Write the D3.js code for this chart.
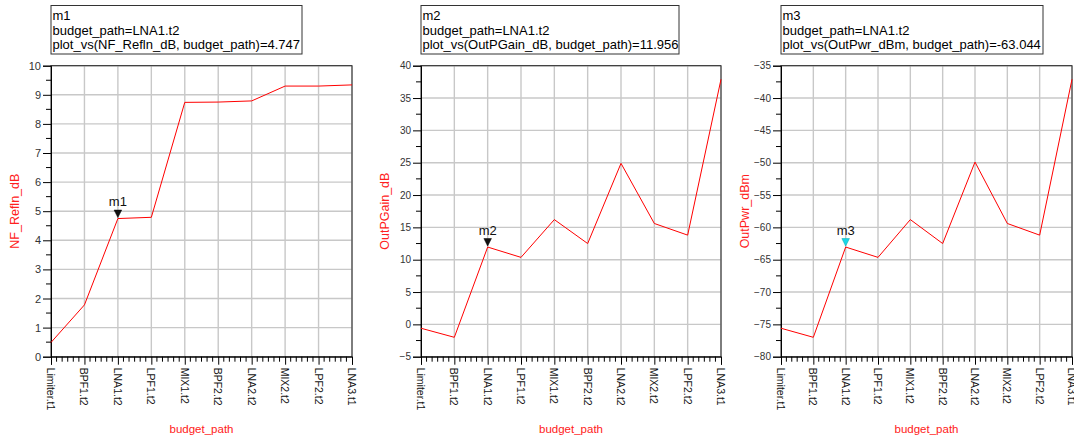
<!DOCTYPE html>
<html><head><meta charset="utf-8">
<script src="https://cdn.jsdelivr.net/npm/d3@7"></script>
<style>body{margin:0;background:#fff}svg{display:block;font-family:"Liberation Sans",Arial,sans-serif}</style>
</head><body>
<svg id="c" width="1074" height="440"></svg>
<script>
const categories = ["Limiter.t1","BPF1.t2","LNA1.t2","LPF1.t2","MIX1.t2","BPF2.t2","LNA2.t2","MIX2.t2","LPF2.t2","LNA3.t1"];
const nfReflnValues = [0.49, 1.78, 4.747, 4.79, 8.74, 8.75, 8.79, 9.30, 9.30, 9.34];
const outPGainValues = [-0.6, -2.0, 11.956, 10.36, 16.2, 12.5, 24.9, 15.6, 13.8, 37.9];
const outPwrValues = [-75.6, -77.0, -63.044, -64.64, -58.8, -62.5, -49.9, -59.4, -61.2, -37.1];
const yTicks1 = [0,1,2,3,4,5,6,7,8,9,10];
const yTicks2 = [-5,0,5,10,15,20,25,30,35,40];
const yTicks3 = [-80,-75,-70,-65,-60,-55,-50,-45,-40,-35];
const yLabels = ["NF_Refln_dB","OutPGain_dB","OutPwr_dBm"];
const xLabel = "budget_path";
const markerNames = ["m1","m2","m3"];
const markerCategory = "LNA1.t2";
const markerLines = [
  ["m1","budget_path=LNA1.t2","plot_vs(NF_Refln_dB, budget_path)=4.747"],
  ["m2","budget_path=LNA1.t2","plot_vs(OutPGain_dB, budget_path)=11.956"],
  ["m3","budget_path=LNA1.t2","plot_vs(OutPwr_dBm, budget_path)=-63.044"]
];

const panels = [
  {x0:51, x1:352, values:nfReflnValues, ticks:yTicks1, step:1, fs:11, boxR:302, mcol:"#111"},
  {x0:421, x1:721, values:outPGainValues, ticks:yTicks2, step:5, fs:10, boxR:679, mcol:"#111"},
  {x0:781, x1:1072, values:outPwrValues, ticks:yTicks3, step:5, fs:10, boxR:1043, mcol:"#19d6e8"}
];
const plotTop = 65.7, plotBottom = 356.7;
const svg = d3.select("#c");

panels.forEach((p, i) => {
  const g = svg.append("g");
  const x = d3.scalePoint().domain(categories).range([p.x0, p.x1]).padding(0);
  const xi = d3.scaleLinear().domain([0, categories.length - 1]).range([p.x0, p.x1]);
  const y = d3.scaleLinear().domain([d3.min(p.ticks), d3.max(p.ticks)]).range([plotBottom, plotTop]);

  // grid
  g.append("g").selectAll("line").data(categories.slice(1)).join("line")
    .attr("x1", d => x(d)).attr("x2", d => x(d)).attr("y1", plotTop).attr("y2", plotBottom)
    .attr("stroke", "#c8c8c8").attr("stroke-width", 1.4);
  g.append("g").selectAll("line").data(p.ticks.slice(1)).join("line")
    .attr("x1", p.x0).attr("x2", p.x1).attr("y1", d => y(d)).attr("y2", d => y(d))
    .attr("stroke", "#c8c8c8").attr("stroke-width", 1.4);

  // frame
  g.append("rect").attr("x", p.x0).attr("y", plotTop).attr("width", p.x1 - p.x0).attr("height", plotBottom - plotTop)
    .attr("fill", "none").attr("stroke", "#222").attr("stroke-width", 1);

  // y axis
  const yAxis = d3.axisLeft(y).tickValues(p.ticks).tickSize(8).tickPadding(2).tickFormat(d3.format("d"));
  const ya = g.append("g").attr("transform", `translate(${p.x0},0)`).call(yAxis);
  ya.select(".domain").attr("stroke", "#000");
  ya.selectAll(".tick line").attr("stroke", "#000");
  ya.selectAll(".tick text").attr("font-size", p.fs).attr("fill", "#333").attr("font-family", "Liberation Sans, Arial, sans-serif");
  const minorY = d3.range(d3.min(p.ticks) + p.step / 2, d3.max(p.ticks), p.step);
  g.append("g").selectAll("line").data(minorY).join("line")
    .attr("x1", p.x0 - 5).attr("x2", p.x0).attr("y1", d => y(d)).attr("y2", d => y(d)).attr("stroke", "#000");

  // x axis
  const xAxis = d3.axisBottom(x).tickSize(8).tickFormat("");
  const xa = g.append("g").attr("transform", `translate(0,${plotBottom})`).call(xAxis);
  xa.select(".domain").attr("stroke", "#000");
  xa.selectAll(".tick line").attr("stroke", "#000");
  const minorX = d3.range(0, categories.length - 1 + 1e-6, 1 / 6).filter(v => Math.abs(v - Math.round(v)) > 1e-6);
  g.append("g").selectAll("line").data(minorX).join("line")
    .attr("x1", d => xi(d)).attr("x2", d => xi(d)).attr("y1", plotBottom).attr("y2", plotBottom + 5).attr("stroke", "#000");
  g.append("g").selectAll("text").data(categories).join("text")
    .attr("transform", d => `translate(${x(d)},${plotBottom + 11}) rotate(90)`)
    .attr("dominant-baseline", "central").attr("font-size", 10.5).attr("fill", "#111").text(d => d);

  // axis titles
  g.append("text").attr("transform", `translate(${p.x0 - 36},${(plotTop + plotBottom) / 2}) rotate(-90)`)
    .attr("text-anchor", "middle").attr("dominant-baseline", "central")
    .attr("font-size", 12.5).attr("fill", "#ff2020").text(yLabels[i]);
  g.append("text").attr("x", (p.x0 + p.x1) / 2).attr("y", 433).attr("text-anchor", "middle")
    .attr("font-size", 11.5).attr("fill", "#ff2020").text(xLabel);

  // data line
  const line = d3.line().x((d, k) => x(categories[k])).y(d => y(d));
  g.append("path").datum(p.values).attr("d", line).attr("fill", "none").attr("stroke", "#ff0000").attr("stroke-width", 1);

  // marker
  const mi = categories.indexOf(markerCategory);
  const mx = x(markerCategory), my = y(p.values[mi]);
  g.append("path").attr("d", `M${mx - 3.8},${my - 8.5}L${mx + 3.8},${my - 8.5}L${mx},${my - 1}Z`)
    .attr("fill", p.mcol).attr("stroke", i === 2 ? "#0aa" : "#000").attr("stroke-width", 0.5);
  g.append("text").attr("x", mx).attr("y", my - 12.5).attr("text-anchor", "middle")
    .attr("font-size", 13).attr("fill", "#111").text(markerNames[i]);

  // marker readout box
  g.append("rect").attr("x", p.x0).attr("y", 5.5).attr("width", p.boxR - p.x0).attr("height", 48.5)
    .attr("fill", "#fff").attr("stroke", "#333").attr("stroke-width", 1);
  g.append("g").selectAll("text").data(markerLines[i]).join("text")
    .attr("x", p.x0 + 1.5).attr("y", (d, k) => 20 + k * 14.7)
    .attr("font-size", 13).attr("fill", "#000").text(d => d);
});
</script>
</body></html>
